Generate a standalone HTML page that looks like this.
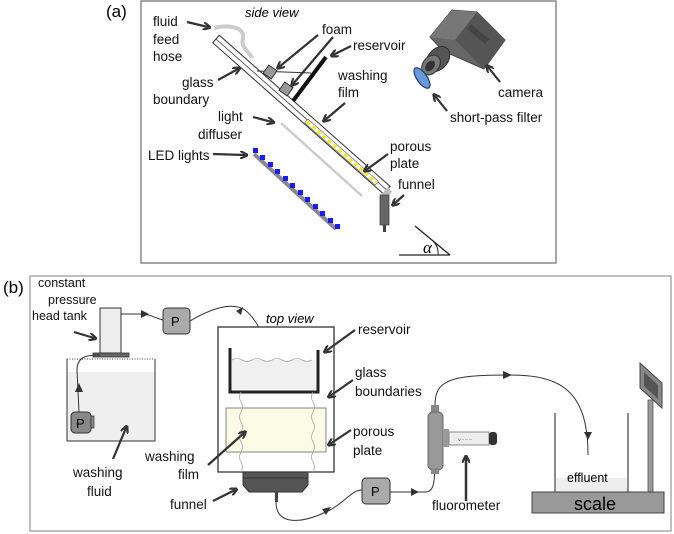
<!DOCTYPE html>
<html><head><style>
html,body{margin:0;padding:0;background:#fff;}
svg{display:block;font-family:"Liberation Sans",sans-serif;}
</style></head><body>
<svg width="674" height="534" viewBox="0 0 674 534" xmlns="http://www.w3.org/2000/svg">
<defs>
<marker id="ah" markerWidth="8" markerHeight="8" refX="5" refY="4" orient="auto" markerUnits="userSpaceOnUse">
<path d="M0,0 L8,4 L0,8" fill="none" stroke="#333" stroke-width="2.2"/>
</marker>
</defs>
<rect x="141" y="1" width="415" height="262" fill="#fff" stroke="#888" stroke-width="1.5"/>
<text x="106" y="17" font-size="17">(a)</text>
<text x="245" y="17" font-size="13" font-style="italic">side view</text>
<path d="M214,28 C230,24 245,28 243,38 C240,48 250,52 252,58" fill="none" stroke="#ccc" stroke-width="4"/>
<path d="M218,42 L386,190 L392,196 L222,47 Z" fill="#ccc"/>
<g transform="translate(216,39) rotate(41.5)">
<rect x="0" y="-5" width="228" height="10" fill="#fff" stroke="#333" stroke-width="1"/>
<line x1="0" y1="0" x2="228" y2="0" stroke="#333" stroke-width="0.8"/>
<rect x="122" y="-1" width="94" height="5" fill="#fff" stroke="#555" stroke-width="0.6"/>
<line x1="123" y1="1.5" x2="215" y2="1.5" stroke="#f5e81e" stroke-width="3" stroke-dasharray="4,3"/>
</g>
<line x1="281" y1="123" x2="362" y2="196" stroke="#ccc" stroke-width="2.5"/>
<line x1="254" y1="154" x2="336" y2="229" stroke="#888" stroke-width="4"/>
<g fill="#1a1aff">
<rect x="253" y="148" width="5" height="5"/><rect x="260" y="155" width="5" height="5"/><rect x="268" y="162" width="5" height="5"/><rect x="275" y="169" width="5" height="5"/><rect x="283" y="176" width="5" height="5"/><rect x="290" y="183" width="5" height="5"/><rect x="298" y="190" width="5" height="5"/><rect x="305" y="197" width="5" height="5"/><rect x="313" y="204" width="5" height="5"/><rect x="320" y="211" width="5" height="5"/><rect x="328" y="218" width="5" height="5"/><rect x="335" y="224" width="5" height="5"/>
</g>
<path d="M381,195 L388,187 L392,192 L388,196 Z" fill="#bbb"/>
<rect x="380" y="195" width="9" height="30" fill="#666" stroke="#444" stroke-width="0.8"/>
<rect x="383" y="225" width="3" height="7" fill="#444"/>
<line x1="257" y1="71" x2="311" y2="73" stroke="#333" stroke-width="1"/>
<rect x="265" y="67" width="10" height="10" fill="#999" stroke="#333" transform="rotate(35 270 72)"/>
<rect x="281" y="84" width="10" height="10" fill="#999" stroke="#333" transform="rotate(35 286 89)"/>
<line x1="326" y1="57" x2="293" y2="101" stroke="#111" stroke-width="4"/>
<line x1="399" y1="255" x2="450" y2="255" stroke="#222" stroke-width="1.3"/>
<line x1="415" y1="226" x2="450" y2="255" stroke="#222" stroke-width="1.3"/>
<path d="M433,241 Q439,247 438,255" fill="none" stroke="#222" stroke-width="1"/>
<text x="423" y="253" font-size="17" font-style="italic" font-family="Liberation Serif,serif">α</text>
<path d="M452,10 L477,12 L505,40 L484,69 L443,51 L430,37 Z" fill="#666" stroke="#444"/>
<path d="M430,37 L452,10 L477,12 L455,40 Z" fill="#777"/>
<path d="M455,40 L477,12 L505,40 L484,69 Z" fill="#555"/>
<rect x="475" y="22" width="6" height="24" fill="#444" transform="rotate(-50 478 34)"/>
<ellipse cx="438" cy="59" rx="10" ry="14" fill="#555" stroke="#333" transform="rotate(40 438 59)"/>
<ellipse cx="431" cy="65" rx="8" ry="11" fill="#777" stroke="#333" transform="rotate(40 431 65)"/>
<ellipse cx="430" cy="66" rx="4" ry="6" fill="#333" transform="rotate(40 430 66)"/>
<ellipse cx="422" cy="78" rx="5" ry="12" fill="#6d9ad6" stroke="#1a3d7a" stroke-width="1.2" transform="rotate(-35 422 78)"/>
<g font-size="13.5" fill="#111">
<text x="153" y="26">fluid</text><text x="153" y="44">feed</text><text x="153" y="61">hose</text>
<text x="182" y="87">glass</text><text x="153" y="104">boundary</text>
<text x="218" y="121">light</text><text x="198" y="139">diffuser</text>
<text x="148" y="160">LED lights</text>
<text x="322" y="34">foam</text><text x="353" y="50">reservoir</text>
<text x="338" y="80">washing</text><text x="338" y="97">film</text>
<text x="390" y="151">porous</text><text x="390" y="168">plate</text>
<text x="398" y="189">funnel</text>
<text x="498" y="97">camera</text><text x="450" y="122">short-pass filter</text>
</g>
<g stroke="#333" stroke-width="2.2" fill="none" marker-end="url(#ah)">
<line x1="187" y1="22" x2="208" y2="27"/>
<line x1="218" y1="80" x2="238" y2="69"/>
<line x1="253" y1="117" x2="272" y2="122"/>
<line x1="213" y1="154" x2="245" y2="155"/>
<line x1="318" y1="35" x2="279" y2="67"/>
<line x1="333" y1="37" x2="293" y2="84"/>
<line x1="351" y1="46" x2="333" y2="55"/>
<line x1="345" y1="103" x2="325" y2="120"/>
<line x1="388" y1="154" x2="366" y2="170"/>
<line x1="404" y1="195" x2="394" y2="204"/>
<line x1="500" y1="82" x2="488" y2="67"/>
<line x1="447" y1="111" x2="435" y2="96"/>
</g>
<rect x="30" y="276" width="641" height="255" fill="#fff" stroke="#aaa" stroke-width="1.5"/>
<text x="3" y="293" font-size="17">(b)</text>
<g font-size="12.5" fill="#111">
<text x="38" y="287">constant</text><text x="48" y="304">pressure</text><text x="32" y="320">head tank</text>
</g>
<rect x="67" y="372" width="88" height="69" fill="#efefef"/>
<path d="M67,359 L67,441 L155,441 L155,359" fill="none" stroke="#333" stroke-width="1"/>
<line x1="67" y1="359" x2="155" y2="359" stroke="#444" stroke-dasharray="1,1.5"/>
<rect x="100" y="308" width="21" height="45" fill="#eee" stroke="#333"/>
<rect x="93" y="353" width="36" height="4" fill="#666" stroke="#333" stroke-width="0.8"/>
<rect x="71" y="412" width="20" height="21" rx="4" fill="#888" stroke="#333"/>
<rect x="91" y="416" width="3" height="12" fill="#888" stroke="#333" stroke-width="0.7"/>
<text x="76" y="428" font-size="13">P</text>
<path d="M79,412 L77,370 C77,355 90,355 100,355" fill="none" stroke="#333" stroke-width="1"/>
<path d="M75,392 L79,383 L83,392 Z" fill="#333"/>
<path d="M121,314 L140,314 C150,314 155,318 163,320" fill="none" stroke="#333" stroke-width="1"/>
<path d="M141,310 L149,314 L141,318 Z" fill="#333"/>
<rect x="163" y="308" width="27" height="26" rx="4" fill="#aaa" stroke="#333"/>
<text x="171" y="326" font-size="13">P</text>
<path d="M190,321 C205,312 230,300 245,310 C258,320 268,345 272,360" fill="none" stroke="#333" stroke-width="1"/>
<path d="M236,311 L243,307 L241,315 Z" fill="#333"/>
<text x="266" y="323" font-size="13" font-style="italic">top view</text>
<rect x="218" y="327" width="116" height="145" fill="#fff" stroke="#333" stroke-width="1.3"/>
<rect x="232" y="360" width="84" height="30" fill="#f0f0f0"/>
<path d="M232,360 q5,-3 10,0 t10,0 t10,0 t10,0 t10,0 t10,0 t10,0 t10,0" fill="none" stroke="#aaa" stroke-width="0.8"/>
<path d="M230,348 L230,392 L318,392 L318,350" fill="none" stroke="#222" stroke-width="3"/>
<rect x="226" y="408" width="100" height="44" fill="#fcfce6" stroke="#666" stroke-width="0.8"/>
<path d="M241,392 q-3,5 0,10 t0,10 t0,10 t0,10 t0,10 t0,10 t0,10 t0,10" fill="none" stroke="#aaa" stroke-width="0.8"/>
<path d="M313,392 q-3,5 0,10 t0,10 t0,10 t0,10 t0,10 t0,10 t0,10 t0,10" fill="none" stroke="#aaa" stroke-width="0.8"/>
<path d="M243,472 L308,472 L308,485 L302,492 L249,492 L243,485 Z" fill="#555" stroke="#333"/>
<line x1="243" y1="478" x2="308" y2="478" stroke="#333"/>
<rect x="275" y="492" width="3" height="10" fill="#444"/>
<path d="M276,502 C276,525 300,525 330,510 C345,502 352,490 362,490" fill="none" stroke="#333" stroke-width="1"/>
<path d="M322,509 L331,507 L326,515 Z" fill="#333"/>
<rect x="362" y="478" width="28" height="26" rx="4" fill="#aaa" stroke="#333"/>
<text x="371" y="496" font-size="13">P</text>
<path d="M390,492 L425,492 C435,492 434,480 435,468" fill="none" stroke="#333" stroke-width="1"/>
<path d="M411,488 L419,492 L411,496 Z" fill="#333"/>
<rect x="431" y="405" width="8" height="8" fill="#888"/>
<rect x="428" y="412" width="15" height="58" rx="5" fill="#999" stroke="#666"/>
<rect x="431" y="468" width="8" height="6" fill="#888"/>
<rect x="443" y="429" width="6" height="18" fill="#999"/>
<rect x="449" y="432" width="40" height="13" fill="#eee" stroke="#888"/>
<rect x="489" y="432" width="8" height="13" rx="3" fill="#333"/>
<text x="458" y="441" font-size="4">V ········</text>
<path d="M435,405 C435,380 450,375 510,375 C560,375 588,390 588,455" fill="none" stroke="#333" stroke-width="1"/>
<path d="M503,371 L512,375 L503,379 Z" fill="#333"/>
<path d="M584,432 L588,440 L592,432 Z" fill="#333"/>
<line x1="466" y1="501" x2="466" y2="458" stroke="#333" stroke-width="2.5" marker-end="url(#ah)"/>
<line x1="555" y1="413" x2="555" y2="492" stroke="#666" stroke-width="1.5"/>
<line x1="628" y1="413" x2="628" y2="492" stroke="#666" stroke-width="1.5"/>
<rect x="556" y="478" width="71" height="14" fill="#eee"/>
<rect x="648" y="400" width="5" height="92" fill="#999" stroke="#555" stroke-width="0.8"/>
<path d="M640,363 L662,383 L662,408 L640,388 Z" fill="#888" stroke="#444"/>
<path d="M644,372 L658,385 L658,399 L644,386 Z" fill="#555"/>
<rect x="532" y="492" width="132" height="21" fill="#999" stroke="#444"/>
<text x="567" y="482" font-size="12.5">effluent</text>
<text x="574" y="510" font-size="18">scale</text>
<g font-size="13.5" fill="#111">
<text x="73" y="477">washing</text><text x="87" y="496">fluid</text>
<text x="145" y="461">washing</text><text x="178" y="479">film</text>
<text x="170" y="509">funnel</text>
<text x="358" y="334">reservoir</text>
<text x="355" y="377">glass</text><text x="355" y="396">boundaries</text>
<text x="353" y="436">porous</text><text x="353" y="455">plate</text>
<text x="432" y="510">fluorometer</text>
</g>
<g stroke="#333" stroke-width="2.2" fill="none" marker-end="url(#ah)">
<line x1="74" y1="332" x2="94" y2="338"/>
<line x1="113" y1="459" x2="126" y2="428"/>
<line x1="208" y1="465" x2="244" y2="433"/>
<line x1="213" y1="501" x2="235" y2="490"/>
<line x1="355" y1="330" x2="326" y2="351"/>
<line x1="353" y1="380" x2="330" y2="396"/>
<line x1="351" y1="430" x2="330" y2="444"/>
</g>
</svg>
</body></html>
